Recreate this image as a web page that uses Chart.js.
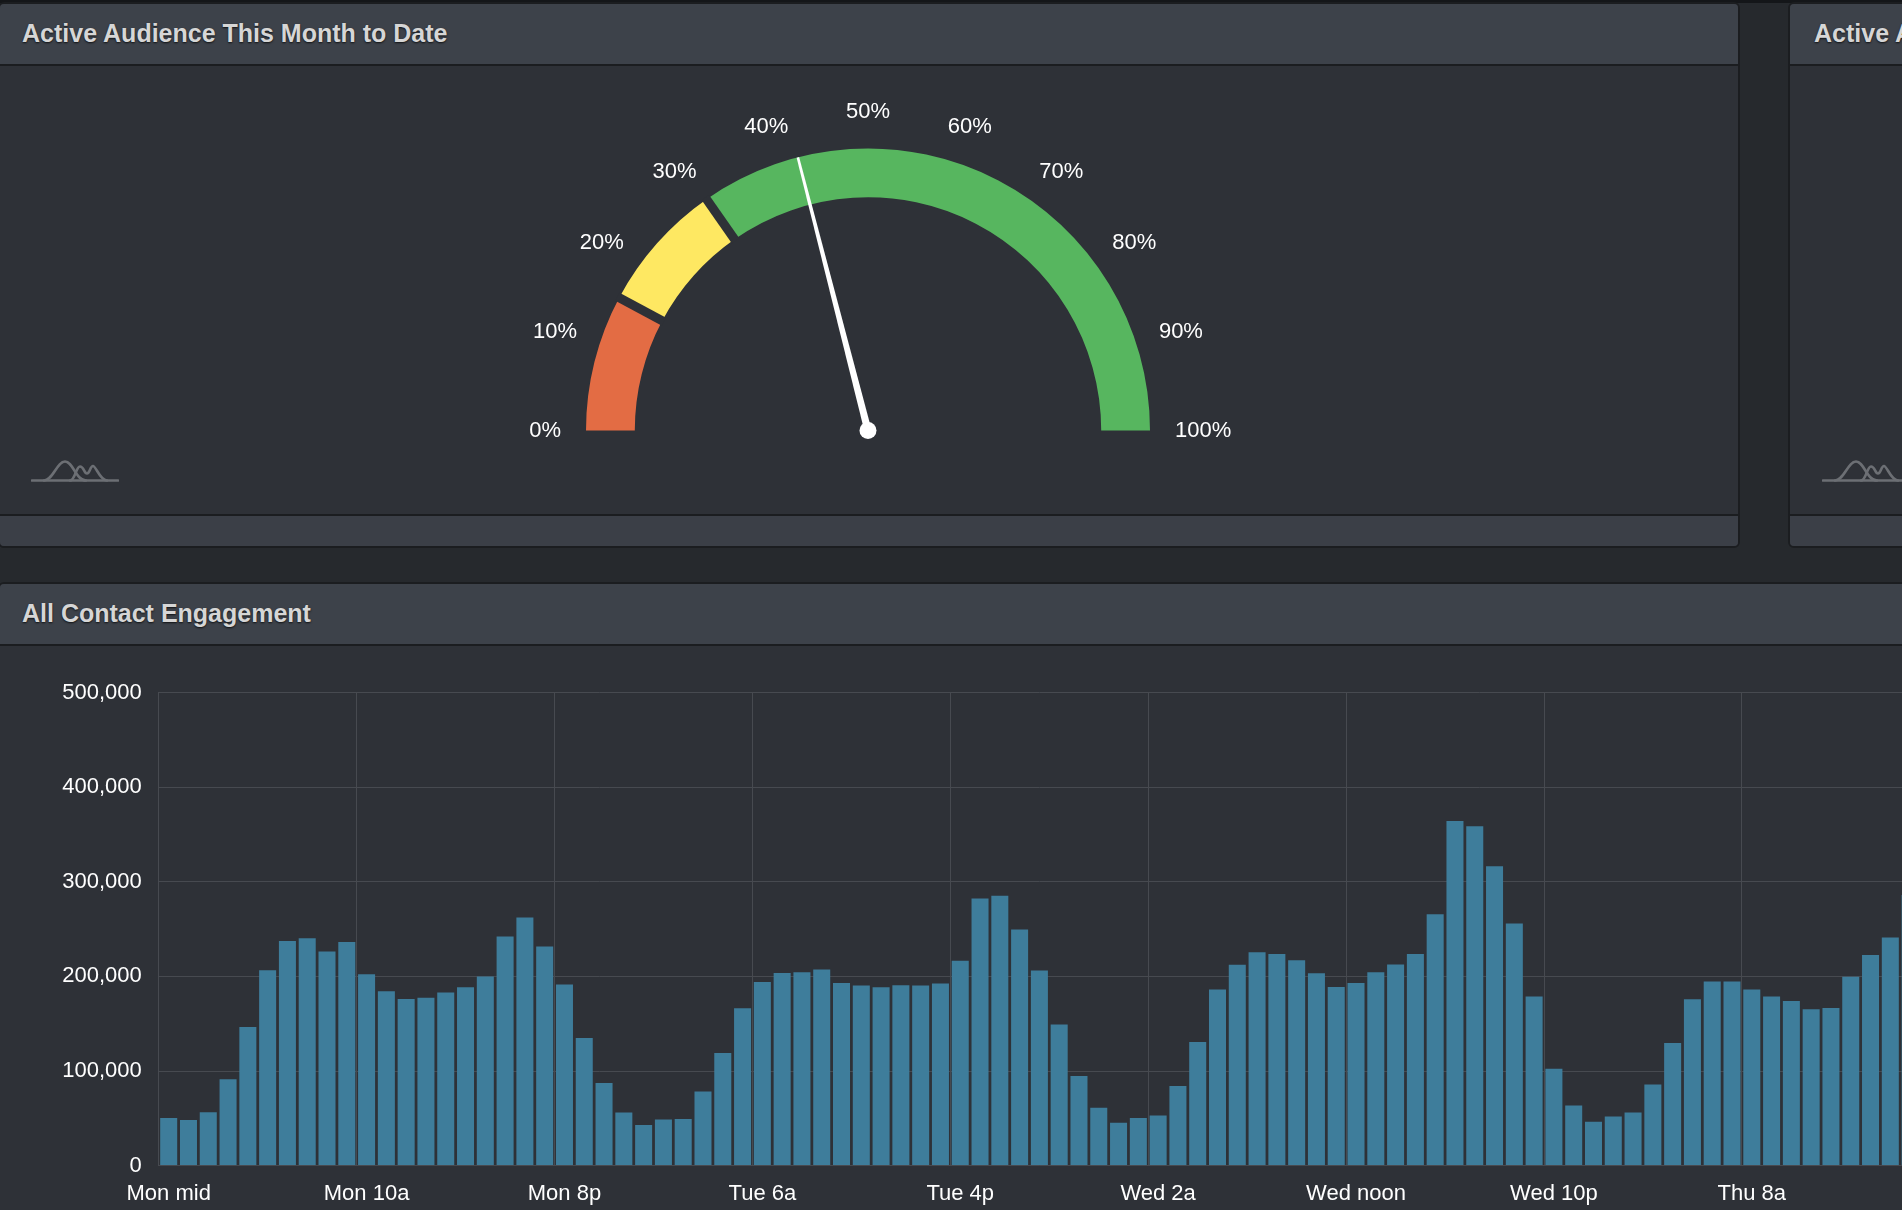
<!DOCTYPE html>
<html>
<head>
<meta charset="utf-8">
<script src="https://cdn.jsdelivr.net/npm/chart.js@4.4.1/dist/chart.umd.min.js"></script>
<style>
  html, body {
    margin: 0; padding: 0; width: 1902px; height: 1210px; overflow: hidden;
    background: #26292d;
    font-family: "Helvetica Neue", Helvetica, "Liberation Sans", Arial, sans-serif;
  }
  .topbar { position: absolute; left: 0; top: 0; width: 1902px; height: 3px; background: #141619; }
  .panel {
    position: absolute; box-sizing: border-box; border: 2px solid #1b1d20;
    border-radius: 6px; background: #2e3137; overflow: hidden;
  }
  .panel .hd {
    position: absolute; left: 0; right: 0; top: 0; height: 60px;
    background: #3d424a; border-bottom: 2px solid #1b1d20;
  }
  .panel .ft {
    position: absolute; left: 0; right: 0; bottom: 0; height: 30px;
    background: #3b3f47; border-top: 2px solid #1b1d20;
  }
  .title {
    position: absolute; font-weight: bold; font-size: 25px; line-height: 30px;
    color: #d6d6d6; text-shadow: 0 1px 2px rgba(0,0,0,0.75); white-space: nowrap;
  }
  .icon { position: absolute; width: 88px; height: 24px; }
  canvas { position: absolute; }
</style>
</head>
<body>
<div class="topbar"></div>

<div class="panel" style="left:-2px;top:2px;width:1742px;height:546px;">
  <div class="hd"></div><div class="ft"></div>
</div>
<div class="panel" style="left:1788px;top:2px;width:400px;height:546px;">
  <div class="hd"></div><div class="ft"></div>
</div>
<div class="panel" style="left:-2px;top:582px;width:2000px;height:700px;">
  <div class="hd"></div>
</div>

<div class="title" style="left:22px;top:18px;">Active Audience This Month to Date</div>
<div class="title" style="left:1814px;top:18px;">Active Audience This Month to Date</div>
<div class="title" style="left:22px;top:598px;">All Contact Engagement</div>

<svg class="icon" style="left:31px;top:459px;" viewBox="0 0 88 24">
  <g fill="none" stroke="#6c6f74" stroke-width="2.6" stroke-linecap="round">
    <path d="M1 21.5 H87"/>
    <path d="M13 21.5 C22 21.5 26 2.5 34 2.5 S45 21.5 55 21.5"/>
    <path d="M39 21.5 C44 21.5 45 7.5 49 7.5 S53 14.5 56 14.5 S59 7 62 7 S69 21.5 76 21.5"/>
  </g>
</svg>
<svg class="icon" style="left:1822px;top:459px;" viewBox="0 0 88 24">
  <g fill="none" stroke="#6c6f74" stroke-width="2.6" stroke-linecap="round">
    <path d="M1 21.5 H87"/>
    <path d="M13 21.5 C22 21.5 26 2.5 34 2.5 S45 21.5 55 21.5"/>
    <path d="M39 21.5 C44 21.5 45 7.5 49 7.5 S53 14.5 56 14.5 S59 7 62 7 S69 21.5 76 21.5"/>
  </g>
</svg>

<canvas id="gauge" width="800" height="415" style="left:468px;top:82px;"></canvas>
<canvas id="bars" width="1940" height="564" style="left:0;top:646px;"></canvas>

<script>
// gauge: band sizes (percent), colours, scale ticks and the needle value
const GAUGE_BANDS = [15.6, 15.0, 69.4];
const GAUGE_COLORS = ["#e36c44", "#fee862", "#57b65f"];
const GAUGE_TICKS = [0, 10, 20, 30, 40, 50, 60, 70, 80, 90, 100];
const NEEDLE_VALUE = 42;

// hourly contact engagement, starting Monday midnight
const ENGAGEMENT = [
  50400, 48200, 56400, 91200, 146500, 206600, 237400, 240400, 226300, 236300,
  202200, 184300, 176200, 177300, 182900, 188400, 199900, 242200, 262200, 231500,
  191400, 135000, 87200, 56000, 43000, 48600, 49300, 78300, 119100, 166200,
  194000, 203600, 204400, 207300, 192900, 190300, 188400, 190700, 190300, 192500,
  216600, 282300, 285200, 249600, 206200, 149100, 94600, 61200, 45300, 50400,
  53000, 84200, 130600, 186200, 212200, 225500, 223700, 217000, 203300, 188800,
  192900, 204400, 212500, 223700, 265600, 364200, 358700, 316400, 255900, 178800,
  102400, 63400, 46400, 51900, 56000, 85700, 129500, 175800, 194700, 194700,
  186200, 178800, 174000, 165400, 166500, 199600, 222600, 241100, 286000,
];
const HOURS = ENGAGEMENT.map((_, i) => i);
const X_TICK_LABELS = ["Mon mid", "Mon 10a", "Mon 8p", "Tue 6a", "Tue 4p", "Wed 2a", "Wed noon", "Wed 10p", "Thu 8a"];
const TICK_STEP = 10;
const Y_MAX = 500000;
const Y_STEP = 100000;

const FONT = '"Helvetica Neue", Helvetica, "Liberation Sans", Arial, sans-serif';
const PANEL_BG = "#2e3137";
const GRID = "#474a50";
const BAR = "#3e7d9b";

Chart.defaults.font.family = FONT;

const gaugeDecor = {
  id: "gaugeDecor",
  afterDatasetsDraw(chart) {
    const arcs = chart.getDatasetMeta(0).data;
    const ctx = chart.ctx;
    const first = arcs[0];
    const cx = first.x, cy = first.y;
    const rOut = first.outerRadius, rIn = first.innerRadius;
    const start = first.startAngle;
    const span = arcs[arcs.length - 1].endAngle - start;

    ctx.save();
    // dark gaps between the bands
    ctx.strokeStyle = PANEL_BG;
    ctx.lineWidth = 9;
    for (const a of arcs.slice(0, -1)) {
      const t = a.endAngle;
      ctx.beginPath();
      ctx.moveTo(cx + Math.cos(t) * (rIn - 2), cy + Math.sin(t) * (rIn - 2));
      ctx.lineTo(cx + Math.cos(t) * (rOut + 2), cy + Math.sin(t) * (rOut + 2));
      ctx.stroke();
    }

    // percent labels round the dial
    ctx.font = "22px " + FONT;
    ctx.fillStyle = "#ffffff";
    ctx.textAlign = "center";
    ctx.textBaseline = "middle";
    const rLab = rOut + 25;
    for (const t of GAUGE_TICKS) {
      const ang = start + (span * t) / 100;
      const txt = t + "%";
      const w = ctx.measureText(txt).width;
      const x = cx + Math.cos(ang) * rLab + Math.cos(ang) * w / 2;
      const y = cy + Math.sin(ang) * rLab + Math.sin(ang) * 12;
      ctx.fillText(txt, x, y);
    }

    // needle
    const na = start + (span * NEEDLE_VALUE) / 100;
    const dx = Math.cos(na), dy = Math.sin(na);
    const nx = -dy, ny = dx;
    const tipX = cx + dx * rOut, tipY = cy + dy * rOut;
    ctx.fillStyle = "#ffffff";
    ctx.beginPath();
    ctx.moveTo(cx + nx * 3.6, cy + ny * 3.6);
    ctx.lineTo(tipX + nx * 1.3, tipY + ny * 1.3);
    ctx.lineTo(tipX - nx * 1.3, tipY - ny * 1.3);
    ctx.lineTo(cx - nx * 3.6, cy - ny * 3.6);
    ctx.closePath();
    ctx.fill();
    ctx.beginPath();
    ctx.arc(cx, cy, 8.5, 0, Math.PI * 2);
    ctx.fill();
    ctx.restore();
  },
};

new Chart(document.getElementById("gauge").getContext("2d"), {
  type: "doughnut",
  data: {
    labels: ["low", "mid", "high"],
    datasets: [{ data: GAUGE_BANDS, backgroundColor: GAUGE_COLORS, borderWidth: 0 }],
  },
  options: {
    responsive: false,
    animation: false,
    events: [],
    rotation: -90,
    circumference: 180,
    radius: 282,
    cutout: "82.7%",
    layout: { padding: 0 },
    plugins: { legend: { display: false }, tooltip: { enabled: false } },
  },
  plugins: [gaugeDecor],
});

new Chart(document.getElementById("bars").getContext("2d"), {
  type: "bar",
  data: {
    labels: HOURS,
    datasets: [
      {
        label: "Engagement",
        data: ENGAGEMENT,
        backgroundColor: BAR,
        borderWidth: 0,
        barPercentage: 0.86,
        categoryPercentage: 1.0,
      },
    ],
  },
  options: {
    responsive: false,
    animation: false,
    events: [],
    layout: { padding: { top: 46.6, right: 20, bottom: 0, left: 0 } },
    plugins: { legend: { display: false }, tooltip: { enabled: false } },
    scales: {
      x: {
        afterFit(scale) { scale.height = 44.4; },
        grid: {
          drawTicks: false,
          color: (c) => (c.index % TICK_STEP === 0 ? GRID : "rgba(0,0,0,0)"),
        },
        border: { color: GRID },
        ticks: {
          autoSkip: false,
          maxRotation: 0,
          minRotation: 0,
          padding: 15,
          color: "#ffffff",
          font: { size: 22 },
          callback: (v, i) => (i % TICK_STEP === 0 ? X_TICK_LABELS[i / TICK_STEP] || "" : ""),
        },
      },
      y: {
        min: 0,
        max: Y_MAX,
        afterFit(scale) { scale.width = 158.8; },
        grid: { drawTicks: false, color: GRID },
        border: { color: GRID },
        ticks: {
          stepSize: Y_STEP,
          padding: 17,
          color: "#ffffff",
          font: { size: 22 },
          callback: (v) => v.toLocaleString("en-US"),
        },
      },
    },
  },
});
</script>
</body>
</html>
